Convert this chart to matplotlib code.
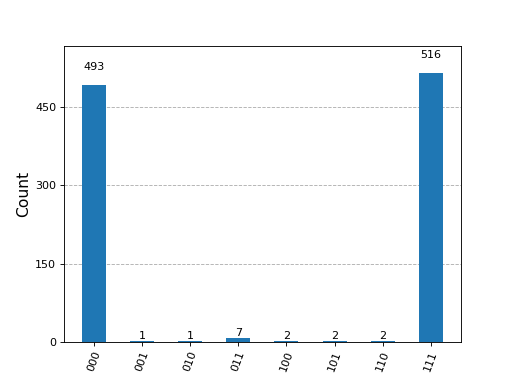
import matplotlib
matplotlib.use("Agg")
import matplotlib.pyplot as plt

states = ["000", "001", "010", "011", "100", "101", "110", "111"]
counts = [493, 1, 1, 7, 2, 2, 2, 516]

fig, ax = plt.subplots(figsize=(6.4, 4.8), dpi=80)
x = list(range(len(states)))
bars = ax.bar(x, counts, width=0.5, color="#1f77b4", zorder=2)
for rect, c in zip(bars, counts):
    h = rect.get_height()
    ax.text(rect.get_x() + rect.get_width() / 2.0, 1.05 * h, str(c),
            ha="center", va="bottom", fontsize=10)
ax.set_xticks(x)
ax.set_xticklabels(states, rotation=70, fontsize=10)
ax.set_yticks([0, 150, 300, 450])
ax.tick_params(axis="y", labelsize=10)
ax.set_ylim(0, 1.1 * max(counts))
ax.yaxis.grid(True, linestyle="--", color="#b0b0b0", linewidth=0.8, zorder=0)
ax.set_axisbelow(True)
ax.set_ylabel("Count", fontsize=14)
fig.savefig("out.png", dpi=80)
